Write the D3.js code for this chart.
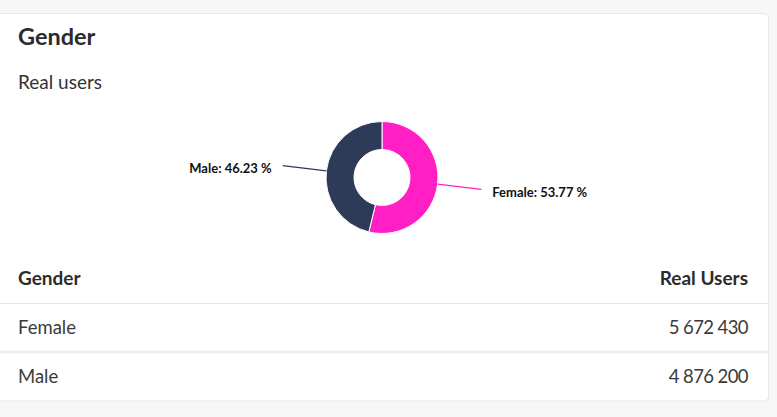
<!DOCTYPE html>
<html>
<head>
<meta charset="utf-8">
<script src="https://cdn.jsdelivr.net/npm/d3@7"></script>
<style>
  body { margin: 0; background: #f7f7f7; font-family: Lato, "Open Sans", sans-serif; }
</style>
</head>
<body>
<script>
// data
const genders = ["Female", "Male"];
const realUsers = [5672430, 4876200];
const sliceColors = ["#ff1fc4", "#2d3a58"];
const columnLabels = ["Gender", "Real Users"];

let width = 777,
    height = 417;

let svg =
    d3.select("body")
        .append("svg")
        .attr("width", width)
        .attr("height", height)
        .style("display", "block");

// card
svg.append("rect")
    .attr("x", -6)
    .attr("y", 13.5)
    .attr("width", 774.5)
    .attr("height", 387.5)
    .attr("rx", 4)
    .attr("fill", "#fff")
    .attr("stroke", "#e8e8e8");

svg.append("text")
    .attr("x", 18)
    .attr("y", 45)
    .attr("font-size", 23.5)
    .attr("font-weight", 700)
    .attr("fill", "#2b2b2b")
    .text("Gender");

svg.append("text")
    .attr("x", 18)
    .attr("y", 89)
    .attr("font-size", 19)
    .attr("fill", "#333")
    .text("Real users");

// donut
let data = genders.map((g, i) => ({gender: g, value: realUsers[i], color: sliceColors[i]}));
let total = d3.sum(realUsers);

let pie = d3.pie().sort(null).value(d => d.value);
let outerR = 56, innerR = 28, labelR = 100;
let arc = d3.arc().innerRadius(innerR).outerRadius(outerR);

let g = svg.append("g").attr("transform", "translate(382,177.5)");

let slices = pie(data);

g.selectAll(".slice")
    .data(slices)
    .enter()
    .append("path")
        .attr("class", "slice")
        .attr("d", arc)
        .attr("fill", d => d.data.color)
        .attr("stroke", "#fff")
        .attr("stroke-width", 1);

let mid = d => (d.startAngle + d.endAngle) / 2;
let pt = (a, r) => [r * Math.sin(a), -r * Math.cos(a)];

g.selectAll(".connector")
    .data(slices)
    .enter()
    .append("line")
        .attr("class", "connector")
        .attr("x1", d => pt(mid(d), outerR)[0])
        .attr("y1", d => pt(mid(d), outerR)[1])
        .attr("x2", d => pt(mid(d), labelR)[0])
        .attr("y2", d => pt(mid(d), labelR)[1])
        .attr("stroke", d => d.data.color)
        .attr("stroke-width", 1.2);

g.selectAll(".label")
    .data(slices)
    .enter()
    .append("text")
        .attr("class", "label")
        .attr("x", d => pt(mid(d), labelR)[0] + (Math.sin(mid(d)) > 0 ? 11 : -11))
        .attr("y", d => pt(mid(d), labelR)[1] + 3)
        .attr("dy", "0.35em")
        .attr("text-anchor", d => Math.sin(mid(d)) > 0 ? "start" : "end")
        .attr("font-size", 13)
        .attr("font-weight", 700)
        .attr("fill", "#111")
        .text(d => `${d.data.gender}: ${d3.format(".2f")(d.data.value / total * 100)} %`);

// table
let fmt = d3.formatLocale({decimal: ".", thousands: " ", grouping: [3], currency: ["", ""]}).format(",");

let y = d3.scaleBand()
    .domain(["head"].concat(genders))
    .range([254, 401]);

let rowTop = r => y(r);

svg.append("g")
    .selectAll("text")
    .data(columnLabels)
    .enter()
    .append("text")
        .attr("x", (d, i) => i === 0 ? 18 : 748)
        .attr("y", y("head") + y.bandwidth() / 2)
        .attr("dy", "0.35em")
        .attr("text-anchor", (d, i) => i === 0 ? "start" : "end")
        .attr("font-size", 19)
        .attr("font-weight", 700)
        .attr("fill", "#2b2b2b")
        .text(d => d);

let rows = svg.selectAll(".row")
    .data(data)
    .enter()
    .append("g")
        .attr("class", "row")
        .attr("transform", d => `translate(0, ${rowTop(d.gender)})`);

rows.append("line")
    .attr("x1", 0)
    .attr("x2", 768)
    .attr("y1", (d, i) => i === 0 ? 0.5 : 0)
    .attr("y2", (d, i) => i === 0 ? 0.5 : 0)
    .attr("stroke", (d, i) => i === 0 ? "#e6e6e6" : "#eceef1")
    .attr("stroke-width", (d, i) => i === 0 ? 1 : 2.5);

rows.append("text")
    .attr("x", 18)
    .attr("y", y.bandwidth() / 2)
    .attr("dy", "0.35em")
    .attr("font-size", 18.5)
    .attr("fill", "#3a3a3a")
    .text(d => d.gender);

rows.append("text")
    .attr("x", 748)
    .attr("y", y.bandwidth() / 2)
    .attr("dy", "0.35em")
    .attr("text-anchor", "end")
    .attr("font-size", 18.5)
    .attr("letter-spacing", -0.6)
    .attr("fill", "#3a3a3a")
    .text(d => fmt(d.value));
</script>
</body>
</html>
